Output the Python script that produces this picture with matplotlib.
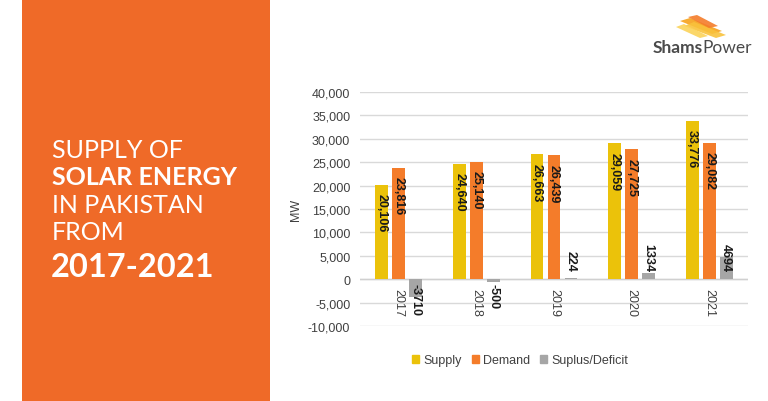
import matplotlib
matplotlib.use("Agg")
import matplotlib.pyplot as plt
import numpy as np
from matplotlib.patches import Rectangle, Polygon
from matplotlib.ticker import FuncFormatter

years = ["2017", "2018", "2019", "2020", "2021"]
supply = [20106, 24640, 26663, 29059, 33776]
demand = [23816, 25140, 26439, 27725, 29082]
surplus = [-3710, -500, 224, 1334, 4694]
supply_labels = ["20,106", "24,640", "26,663", "29,059", "33,776"]
demand_labels = ["23,816", "25,140", "26,439", "27,725", "29,082"]
surplus_labels = ["-3710", "-500", "224", "1334", "4694"]
series_names = ["Supply", "Demand", "Suplus/Deficit"]
yticks = list(range(-10000, 40001, 5000))

C_SUP = "#EBC20A"
C_DEM = "#F47C2A"
C_SUR = "#A6A6A6"
C_PANEL = "#EF6A28"

plt.rcParams["font.family"] = ["Liberation Sans", "DejaVu Sans"]

fig = plt.figure(figsize=(7.68, 4.02), dpi=100)
fig.patch.set_facecolor("white")

# Orange side panel
fig.patches.append(Rectangle((22 / 768, 0), (270 - 22) / 768, 1, transform=fig.transFigure,
                             facecolor=C_PANEL, edgecolor="none", zorder=0))

def fy(py):
    return 1 - py / 402

title_font = ["Lato", "DejaVu Sans"]
fig.text(52 / 768, fy(158), "SUPPLY OF", color="white", fontsize=18, family=title_font, va="baseline")
fig.text(52 / 768, fy(185), "SOLAR ENERGY", color="white", fontsize=18, fontweight="bold", family=title_font, va="baseline")
fig.text(52 / 768, fy(213), "IN PAKISTAN", color="white", fontsize=18, family=title_font, va="baseline")
fig.text(52 / 768, fy(240), "FROM", color="white", fontsize=18, family=title_font, va="baseline")
fig.text(51 / 768, fy(277), "2017-2021", color="white", fontsize=23.5, fontweight="bold", family=title_font, va="baseline")

# Logo
streaks = [
    ([(680, 22), (690, 19), (722, 32), (712, 35)], "#F7A21B"),
    ([(684, 27), (694, 23), (726, 36), (716, 39)], "#F9C23C"),
    ([(688, 18), (697, 16), (718, 27), (709, 29)], "#F47C2A"),
    ([(676, 28), (684, 25), (708, 37), (700, 39)], "#FBD35A"),
]
for pts, col in streaks:
    fig.patches.append(Polygon([(x / 768, fy(y)) for x, y in pts], closed=True,
                               transform=fig.transFigure, facecolor=col, edgecolor="none", alpha=0.9))
t_shams = fig.text(653 / 768, fy(56), "Shams", color="#4A4A4A", fontsize=12.5, fontweight="bold",
                   family=title_font, va="bottom")
fig.texts.append(matplotlib.text.Annotation("Power", xy=(1, 0), xycoords=t_shams, xytext=(-0.5, 0),
                                            textcoords="offset points", va="bottom", ha="left",
                                            color="#4A4A4A", fontsize=12.5, family=title_font))
fig.texts[-1].set_figure(fig)

# Chart axes
ax = fig.add_axes([360 / 768, (402 - 327) / 402, 388 / 768, 234 / 402])
x = np.arange(len(years))
w = 0.167
off = 0.219
ax.bar(x - off, supply, w, color=C_SUP, zorder=3)
ax.bar(x, demand, w, color=C_DEM, zorder=3)
ax.bar(x + off, surplus, w, color=C_SUR, zorder=3)

ax.set_xlim(-0.5, len(years) - 0.5)
ax.set_ylim(-10000, 40000)
ax.set_yticks(yticks)
ax.yaxis.set_major_formatter(FuncFormatter(lambda v, p: f"{int(v):,}"))
ax.tick_params(axis="y", length=0, pad=7, labelsize=9, labelcolor="#404040")
ax.set_xticks([])
ax.grid(axis="y", color="#D9D9D9", linewidth=1, zorder=0)
for s in ax.spines.values():
    s.set_visible(False)
ax.axhline(0, color="#D0D0D0", linewidth=1, zorder=2)

for i in range(len(years)):
    ax.annotate(supply_labels[i], (x[i] - off, supply[i]), xytext=(0, -6), textcoords="offset points",
                rotation=270, ha="center", va="top", fontsize=9, fontweight="bold", color="#1A1A1A", zorder=4)
    ax.annotate(demand_labels[i], (x[i], demand[i]), xytext=(0, -6), textcoords="offset points",
                rotation=270, ha="center", va="top", fontsize=9, fontweight="bold", color="#1A1A1A", zorder=4)
    if surplus[i] >= 0:
        ax.annotate(surplus_labels[i], (x[i] + off, 0), xytext=(0, 6), textcoords="offset points",
                    rotation=270, ha="center", va="bottom", fontsize=9, fontweight="bold", color="#1A1A1A", zorder=4)
    else:
        ax.annotate(surplus_labels[i], (x[i] + off, 0), xytext=(0, -3), textcoords="offset points",
                    rotation=270, ha="center", va="top", fontsize=9, fontweight="bold", color="#1A1A1A", zorder=4)
    ax.annotate(years[i], (x[i], 0), xytext=(0, -6), textcoords="offset points",
                rotation=270, ha="center", va="top", fontsize=9, color="#404040", zorder=4)

fig.text(296 / 768, fy(210), "MW", rotation=90, ha="center", va="center", fontsize=9, color="#404040")

handles = [Rectangle((0, 0), 1, 1, color=c) for c in (C_SUP, C_DEM, C_SUR)]
fig.legend(handles, series_names, loc="center", bbox_to_anchor=(520 / 768, fy(361)), ncol=3,
           frameon=False, fontsize=9, handlelength=0.6, handleheight=0.6, handletextpad=0.3,
           columnspacing=0.8, labelcolor="#404040")

fig.savefig("out.png", dpi=100)
